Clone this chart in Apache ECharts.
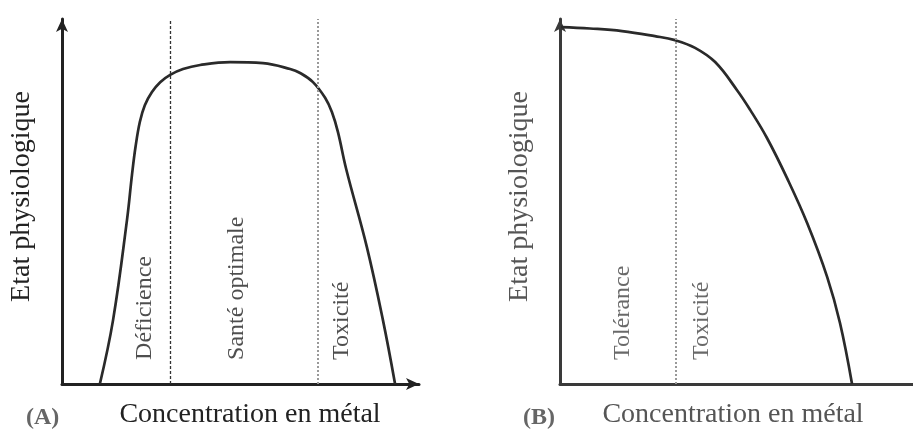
<!DOCTYPE html>
<html>
<head>
<meta charset="utf-8">
<script src="https://cdn.jsdelivr.net/npm/echarts@6/dist/echarts.min.js"></script>
<style>
  html, body { margin: 0; padding: 0; background: #fff; }
  #chart { width: 913px; height: 430px; }
</style>
</head>
<body>
<div id="chart"></div>
<script>
// courbe (A) : concentration -> état physiologique
const curveA = [
  [10.6, 0], [14.3, 17.5], [18.2, 44.9], [19.6, 57.3], [20.6, 65.0],
  [21.8, 71.8], [23.2, 76.4], [25.2, 80.0], [27.5, 82.7], [30.3, 84.7],
  [33.9, 86.3], [38.7, 87.4], [47.1, 88.2], [56.3, 87.9], [63.9, 86.3],
  [66.7, 85.2], [70.3, 82.7], [73.7, 78.4], [75.6, 74.5], [77.3, 69.0],
  [79.6, 58.9], [85.4, 37.5], [89.9, 17.5], [93.3, 0]
];
// courbe (B)
const curveB = [
  [0.3, 97.8], [8.2, 97.4], [17.0, 96.7], [26.0, 95.3], [31.5, 94.2],
  [37.0, 92.1], [42.5, 88.2], [48.5, 80.5], [52.1, 75.1], [56.7, 67.4],
  [62.2, 56.4], [67.7, 44.1], [73.2, 29.3], [76.7, 16.7], [80.0, 0]
];
const limitsA = [30.3, 71.7];
const limitsB = [31.8];
const zonesA = [["Déficience", 23.2], ["Santé optimale", 49.0], ["Toxicité", 78.4]];
const zonesB = [["Tolérance", 17.3], ["Toxicité", 38.9]];
const zoneY = 6.6;
const yName = "Etat physiologique";
const xName = "Concentration en métal";

const serif = "Liberation Serif";
const chart = echarts.init(document.getElementById("chart"));

// panneau B : l'axe x sort du cadre à droite (coupé, sans flèche)
function axisPair(idx, color, textColor, shift, xMax, xArrow) {
  const line = {
    show: true, onZero: false,
    symbol: ["none", "arrow"], symbolSize: [9, 13],
    lineStyle: { color: color, width: 3 }
  };
  return {
    x: {
      type: "value", gridIndex: idx, min: 0, max: xMax,
      axisLine: Object.assign({}, line, { symbol: ["none", xArrow ? "arrow" : "none"] }),
      axisTick: { show: false }, axisLabel: { show: false },
      splitLine: { show: false },
      name: xName, nameLocation: "middle", nameGap: 17,
      nameTextStyle: { fontFamily: serif, fontSize: 28, color: textColor,
        padding: shift > 0 ? [0, 0, 0, shift] : [0, -shift, 0, 0] }
    },
    y: {
      type: "value", gridIndex: idx, min: 0, max: 100,
      axisLine: line, axisTick: { show: false }, axisLabel: { show: false },
      splitLine: { show: false },
      name: yName, nameLocation: "middle", nameGap: 26, nameRotate: 90,
      nameTextStyle: { fontFamily: serif, fontSize: 28, color: textColor,
        padding: [0, 0, 0, 10] }
    }
  };
}
const axA = axisPair(0, "#222", "#222", 19, 100, true);
const axB = axisPair(1, "#3a3a3a", "#555", -7, 96.7, false);

function zoneSeries(idx, zones, color) {
  return {
    type: "scatter", xAxisIndex: idx, yAxisIndex: idx,
    symbolSize: 0, silent: true,
    data: zones.map(z => ({ value: [z[1], zoneY], name: z[0] })),
    label: {
      show: true, position: "inside", rotate: 90,
      align: "left", verticalAlign: "middle",
      formatter: p => p.name,
      fontFamily: serif, fontSize: 24, color: color
    }
  };
}

function limitLines(values, styles) {
  return {
    silent: true, symbol: "none", label: { show: false },
    data: values.map((v, i) => ({ xAxis: v, lineStyle: styles[i] }))
  };
}

const option = {
  animation: false,
  backgroundColor: "#fff",
  title: [
    { text: "(A)", left: 21, top: 401,
      textStyle: { fontFamily: serif, fontSize: 24, fontWeight: "bold", color: "#666" } },
    { text: "(B)", left: 518, top: 401,
      textStyle: { fontFamily: serif, fontSize: 24, fontWeight: "bold", color: "#666" } }
  ],
  grid: [
    { left: 62, top: 19, width: 357, height: 365, outerBoundsMode: "none" },
    { left: 560, top: 19, width: 353, height: 365, outerBoundsMode: "none" }
  ],
  xAxis: [axA.x, axB.x],
  yAxis: [axA.y, axB.y],
  series: [
    {
      type: "line", xAxisIndex: 0, yAxisIndex: 0,
      data: curveA, smooth: 0.4, showSymbol: false,
      lineStyle: { color: "#2a2a2a", width: 2.7 },
      markLine: limitLines(limitsA, [
        { color: "#333", type: [3, 2], width: 1.3 },
        { color: "#999", type: [2, 2], width: 2 }
      ])
    },
    {
      type: "line", xAxisIndex: 1, yAxisIndex: 1,
      data: curveB, smooth: 0.4, showSymbol: false,
      lineStyle: { color: "#2a2a2a", width: 2.7 },
      markLine: limitLines(limitsB, [
        { color: "#999", type: [2, 2], width: 2 }
      ])
    },
    zoneSeries(0, zonesA, "#222"),
    zoneSeries(1, zonesB, "#444")
  ]
};
chart.setOption(option);
window.addEventListener("resize", () => {
  chart && chart.resize();
});
</script>
</body>
</html>
